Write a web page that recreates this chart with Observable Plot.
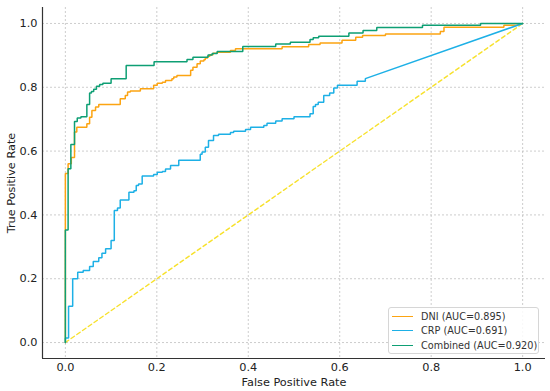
<!DOCTYPE html>
<html><head><meta charset="utf-8">
<script src="https://cdn.jsdelivr.net/npm/d3@7"></script>
<script src="https://cdn.jsdelivr.net/npm/@observablehq/plot@0.6"></script>
<style>
body{margin:0;background:#fff;font-family:"DejaVu Sans",sans-serif;}
#wrap{position:relative;width:550px;height:391px;}
#legend{position:absolute;left:388px;top:307px;width:151px;height:47px;border:1px solid #d6d6d6;border-radius:3px;background:rgba(255,255,255,0.85);box-sizing:border-box;font-size:9.7px;color:#333;}
.row{position:absolute;left:3px;height:14px;display:flex;align-items:center;white-space:nowrap;}
.sw{width:21px;height:0;border-top:1.6px solid;margin-right:8px;}
</style>
</head><body>
<div id="wrap"><div id="chart"></div><div id="legend"></div></div>
<script>
const seriesNames = ["DNI (AUC=0.895)", "CRP (AUC=0.691)", "Combined (AUC=0.920)"];
const seriesColors = ["#FCA412", "#1DB0E6", "#0E9F74"];
const chanceColor = "#F7E12C";

// Each step: at false positive rate x, the true positive rate rises to y.
const dniStepFpr = [0,0.006,0.013,0.02,0.025,0.047,0.053,0.058,0.066,0.073,0.120,0.131,0.136,0.142,0.164,0.193,0.201,0.212,0.219,0.233,0.237,0.244,0.274,0.279,0.288,0.295,0.303,0.306,0.311,0.316,0.323,0.332,0.361,0.372,0.474,0.532,0.557,0.605,0.635,0.650,0.700,0.820,0.828,0.959,0.985];
const dniStepTpr = [0.53,0.56,0.58,0.66,0.675,0.686,0.706,0.727,0.738,0.746,0.764,0.774,0.785,0.788,0.795,0.806,0.813,0.816,0.821,0.827,0.832,0.837,0.853,0.863,0.874,0.882,0.886,0.892,0.897,0.902,0.907,0.910,0.915,0.921,0.927,0.934,0.939,0.947,0.957,0.962,0.967,0.975,0.988,0.994,0.994];

const crpStepFpr = [0,0.007,0.016,0.027,0.039,0.053,0.061,0.073,0.080,0.088,0.100,0.107,0.114,0.120,0.139,0.150,0.155,0.160,0.168,0.193,0.201,0.212,0.219,0.230,0.248,0.295,0.299,0.306,0.313,0.324,0.335,0.361,0.368,0.394,0.405,0.434,0.441,0.460,0.474,0.500,0.535,0.542,0.547,0.553,0.565,0.578,0.587,0.595,0.638,0.656];
const crpStepTpr = [0.014,0.114,0.2,0.22,0.226,0.238,0.254,0.266,0.28,0.294,0.32,0.414,0.422,0.447,0.471,0.476,0.492,0.497,0.522,0.527,0.534,0.536,0.544,0.555,0.571,0.590,0.597,0.612,0.633,0.649,0.653,0.658,0.662,0.668,0.675,0.680,0.687,0.694,0.701,0.708,0.717,0.740,0.746,0.753,0.774,0.782,0.798,0.806,0.819,0.827];

const combStepFpr = [0,0.006,0.012,0.020,0.026,0.034,0.047,0.053,0.057,0.062,0.068,0.075,0.082,0.100,0.133,0.194,0.266,0.279,0.312,0.321,0.332,0.388,0.460,0.492,0.535,0.542,0.554,0.620,0.651,0.681,0.781,0.908];
const combStepTpr = [0.353,0.545,0.621,0.693,0.704,0.708,0.746,0.782,0.787,0.794,0.803,0.809,0.813,0.827,0.868,0.880,0.887,0.894,0.901,0.906,0.912,0.928,0.936,0.941,0.950,0.955,0.960,0.970,0.978,0.987,0.994,1.0];

const rocStart = [0, 0];
const rocEnd = [1, 1];
const chanceFpr = [0, 1];
const chanceTpr = [0, 1];
const tickValues = [0, 0.2, 0.4, 0.6, 0.8, 1.0];
const domain = [-0.05, 1.05];

function corners(name, xs, ys) {
  const pts = [{series: name, fpr: rocStart[0], tpr: rocStart[1]}];
  let prev = rocStart[1];
  xs.forEach((x, i) => {
    pts.push({series: name, fpr: x, tpr: prev}, {series: name, fpr: x, tpr: ys[i]});
    prev = ys[i];
  });
  pts.push({series: name, fpr: rocEnd[0], tpr: rocEnd[1]});
  return pts;
}
const rows = [
  ...corners(seriesNames[0], dniStepFpr, dniStepTpr),
  ...corners(seriesNames[1], crpStepFpr, crpStepTpr),
  ...corners(seriesNames[2], combStepFpr, combStepTpr)
];
const chance = chanceFpr.map((x, i) => ({fpr: x, tpr: chanceTpr[i]}));

const plot = Plot.plot({
  width: 550, height: 391,
  marginLeft: 42, marginRight: 5, marginTop: 7, marginBottom: 33,
  style: {fontFamily: "DejaVu Sans, sans-serif", fontSize: "11.3px", color: "#333", background: "#fff"},
  x: {domain, ticks: tickValues, tickFormat: d3.format(".1f")},
  y: {domain, ticks: tickValues, tickFormat: d3.format(".1f")},
  color: {domain: seriesNames, range: seriesColors},
  marks: [
    Plot.gridX(tickValues, {stroke: "#b8b8b8", strokeOpacity: 0.7, strokeDasharray: "2,2"}),
    Plot.gridY(tickValues, {stroke: "#b8b8b8", strokeOpacity: 0.7, strokeDasharray: "2,2"}),
    Plot.ruleX([domain[0]], {stroke: "#333", strokeWidth: 1.2}),
    Plot.ruleY([domain[0]], {stroke: "#333", strokeWidth: 1.2}),
    Plot.axisX({ticks: tickValues, tickFormat: d3.format(".1f"), tickSize: 0, tickPadding: 4, label: "False Positive Rate", labelAnchor: "center", labelArrow: "none", labelOffset: 27, fill: "#222"}),
    Plot.axisY({ticks: tickValues, tickFormat: d3.format(".1f"), tickSize: 0, tickPadding: 5, label: "True Positive Rate", labelAnchor: "center", labelArrow: "none", labelOffset: 36, fill: "#222"}),
    Plot.line(chance, {x: "fpr", y: "tpr", stroke: chanceColor, strokeWidth: 1.4, strokeDasharray: "4,3"}),
    Plot.line(rows, {x: "fpr", y: "tpr", z: "series", stroke: "series", strokeWidth: 1.5, strokeLinejoin: "miter"})
  ]
});
document.getElementById("chart").appendChild(plot);

const legend = document.getElementById("legend");
seriesNames.forEach((name, i) => {
  const row = document.createElement("div");
  row.className = "row";
  row.style.top = (1 + i * 14.6) + "px";
  const sw = document.createElement("span");
  sw.className = "sw";
  sw.style.borderTopColor = seriesColors[i];
  const t = document.createElement("span");
  t.textContent = name;
  row.appendChild(sw); row.appendChild(t);
  legend.appendChild(row);
});
</script>
</body></html>
